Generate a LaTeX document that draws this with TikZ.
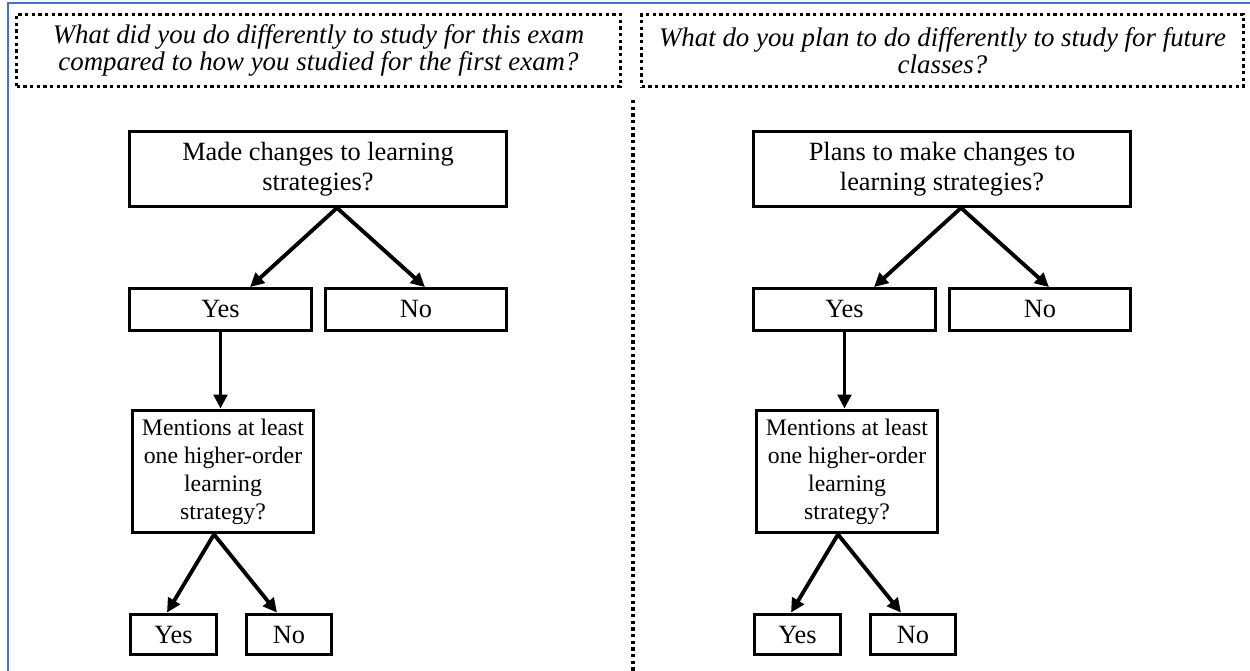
\documentclass[tikz,border=0pt]{standalone}
\usepackage{fontspec}
\setmainfont{Liberation Serif}
\usetikzlibrary{arrows.meta}
\definecolor{slideblue}{RGB}{68,114,196}
\tikzset{
  qbox/.style={draw, line width=1.9pt, dash pattern=on 1.9pt off 1.9pt, minimum width=12.08cm, minimum height=1.45cm, align=center, inner sep=0pt, font=\fontsize{15.3}{15.5}\selectfont\itshape},
  fbox/.style={draw, line width=1.9pt, align=center, inner sep=0pt, font=\fontsize{15}{17}\selectfont},
  farrow/.style={line width=2.2pt, -{Triangle[length=0.28cm,width=0.27cm]}},
}
\begin{document}
\begin{tikzpicture}[x=0.02cm, y=-0.02cm]
\useasboundingbox (0,0) rectangle (1250,671);
\draw[slideblue, line width=0.6pt] (8,671) -- (8,3) -- (1250,3);

% questions
\node[qbox] (lq) at (318.5,50.5) {What did you do differently to study for this exam\\compared to how you studied for the first exam?};
\node[qbox, minimum width=12.04cm] (rq) at (942.5,50.5) {What do you plan to do differently to study for future\\classes?};
\draw[line width=1.9pt, dash pattern=on 1.9pt off 1.9pt] (633,100) -- (633,671);

% left chart
\node[fbox, minimum width=7.55cm, minimum height=1.49cm] (lmade) at (318,169) {Made changes to learning\\strategies?};
\node[fbox, minimum width=3.65cm, minimum height=0.83cm] (lyes) at (220.5,309.5) {Yes};
\node[fbox, minimum width=3.61cm, minimum height=0.83cm] (lno) at (416,309.5) {No};
\node[fbox, minimum width=3.63cm, minimum height=2.45cm, font=\fontsize{13.5}{16}\selectfont] (lment) at (223,471.5) {Mentions at least\\one higher-order\\learning\\strategy?};
\node[fbox, minimum width=1.73cm, minimum height=0.81cm] (lyes2) at (173.5,634.5) {Yes};
\node[fbox, minimum width=1.71cm, minimum height=0.81cm] (lno2) at (289,634.5) {No};

\draw[farrow] ([xshift=0.38cm]lmade.south) -- ([xshift=0.59cm]lyes.north);
\draw[farrow] ([xshift=0.38cm]lmade.south) -- ([xshift=0.18cm]lno.north);
\draw[farrow] (lyes.south) -- (lyes.south |- lment.north);
\draw[farrow] ([xshift=-0.18cm]lment.south) -- ([xshift=-0.13cm]lyes2.north);
\draw[farrow] ([xshift=-0.18cm]lment.south) -- ([xshift=-0.24cm]lno2.north);

% right chart
\node[fbox, minimum width=7.55cm, minimum height=1.49cm] (rmade) at (942,169) {Plans to make changes to\\learning strategies?};
\node[fbox, minimum width=3.65cm, minimum height=0.83cm] (ryes) at (844.5,309.5) {Yes};
\node[fbox, minimum width=3.61cm, minimum height=0.83cm] (rno) at (1040,309.5) {No};
\node[fbox, minimum width=3.63cm, minimum height=2.45cm, font=\fontsize{13.5}{16}\selectfont] (rment) at (847,471.5) {Mentions at least\\one higher-order\\learning\\strategy?};
\node[fbox, minimum width=1.73cm, minimum height=0.81cm] (ryes2) at (797.5,634.5) {Yes};
\node[fbox, minimum width=1.71cm, minimum height=0.81cm] (rno2) at (913,634.5) {No};

\draw[farrow] ([xshift=0.38cm]rmade.south) -- ([xshift=0.59cm]ryes.north);
\draw[farrow] ([xshift=0.38cm]rmade.south) -- ([xshift=0.18cm]rno.north);
\draw[farrow] (ryes.south) -- (ryes.south |- rment.north);
\draw[farrow] ([xshift=-0.18cm]rment.south) -- ([xshift=-0.13cm]ryes2.north);
\draw[farrow] ([xshift=-0.18cm]rment.south) -- ([xshift=-0.24cm]rno2.north);
\end{tikzpicture}
\end{document}
